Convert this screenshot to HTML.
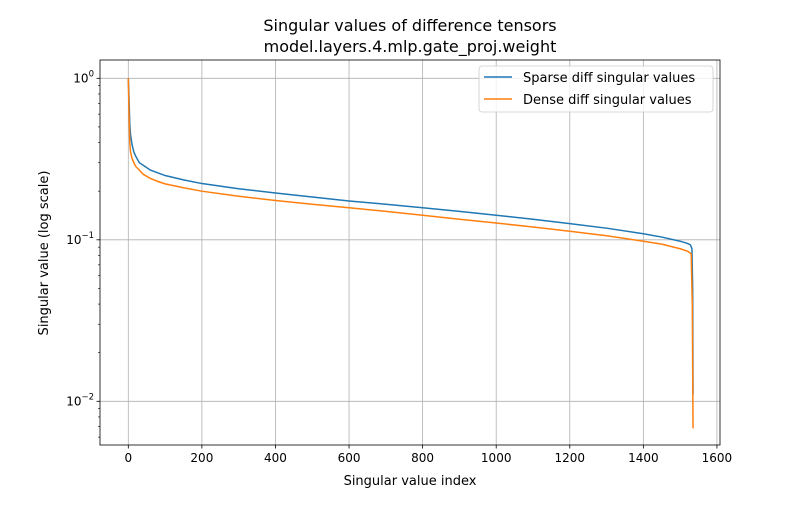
<!DOCTYPE html>
<html><head><meta charset="utf-8"><style>
body{margin:0;background:#fff;font-family:"Liberation Sans","DejaVu Sans",sans-serif}
svg text{font-family:"DejaVu Sans","Liberation Sans",sans-serif}
</style></head><body>
<svg id="c" width="800" height="500" xmlns="http://www.w3.org/2000/svg"></svg>
<script>
const xTicks=[0,200,400,600,800,1000,1200,1400,1600];
const yTicks=[1,0.1,0.01];
const sparseIdx=[0,2,4,6,10,15,20,30,40,60,80,100,150,200,300,400,500,600,700,800,900,1000,1100,1200,1300,1400,1450,1500,1520,1528,1532,1534,1535];
const sparseVal=[1.0,0.75,0.52,0.45,0.39,0.35,0.33,0.30,0.29,0.27,0.26,0.25,0.235,0.223,0.207,0.195,0.184,0.174,0.166,0.158,0.150,0.142,0.134,0.126,0.118,0.109,0.104,0.098,0.095,0.093,0.088,0.05,0.011];
const denseIdx=[0,2,4,6,10,15,20,30,40,60,80,100,150,200,300,400,500,600,700,800,900,1000,1100,1200,1300,1400,1450,1500,1520,1530,1533,1535];
const denseVal=[1.0,0.6,0.4,0.35,0.32,0.30,0.285,0.27,0.255,0.24,0.23,0.222,0.21,0.20,0.186,0.175,0.166,0.158,0.150,0.142,0.134,0.127,0.120,0.113,0.106,0.098,0.094,0.088,0.085,0.082,0.04,0.0068];
const L=100,R=720,T=60,B=445;
const X=v=>128.3+v*0.3679;
const Y=v=>78.3-Math.log10(v)*161.5;
const svg=document.getElementById('c');
const NS='http://www.w3.org/2000/svg';
function el(t,a,txt){const e=document.createElementNS(NS,t);for(const k in a)e.setAttribute(k,a[k]);if(txt!==undefined)e.textContent=txt;svg.appendChild(e);return e;}
xTicks.forEach(v=>{
 const g=el('line',{x1:X(v),x2:X(v),y1:T,y2:B,stroke:'#b0b0b0','stroke-width':0.8});
 
 
 el('line',{x1:X(v),x2:X(v),y1:B,y2:B+3.5,stroke:'#000','stroke-width':0.8});
 const t=el('text',{x:X(v),y:B+17,'font-size':12,'text-anchor':'middle'},String(v));
 
 
});
yTicks.forEach(v=>{
 const g=el('line',{x1:L,x2:R,y1:Y(v),y2:Y(v),stroke:'#b0b0b0','stroke-width':0.8});
 
 
 el('line',{x1:L-3.5,x2:L,y1:Y(v),y2:Y(v),stroke:'#000','stroke-width':0.8});
 const e=Math.round(Math.log10(v));
 const t=el('text',{x:L-6,y:Y(v)+4,'font-size':12,'text-anchor':'end'});
 t.innerHTML='10<tspan dy="-6" font-size="8.5">'+(e<0?'−'+(-e):e)+'</tspan>';
 
 
});
// minor ticks
for(let d=-3;d<=0;d++)for(let m=2;m<=9;m++){const v=m*Math.pow(10,d);const y=Y(v);if(y>T&&y<B)el('line',{x1:L-2,x2:L,y1:y,y2:y,stroke:'#000','stroke-width':0.6});}
function line(idx,val,col,name){
 const p=el('polyline',{points:idx.map((x,i)=>X(x)+','+Y(val[i])).join(' '),fill:'none',stroke:col,'stroke-width':1.5});
 
 
}
line(sparseIdx,sparseVal,'#1f77b4','sparse-series');
line(denseIdx,denseVal,'#ff7f0e','dense-series');
const fr=el('rect',{x:L,y:T,width:R-L,height:B-T,fill:'none',stroke:'#000','stroke-width':0.8});


</script>
<div style="display:none"></div>
<script>
(function(){
const svg=document.getElementById('c');const NS='http://www.w3.org/2000/svg';
function el(t,a,txt){const e=document.createElementNS(NS,t);for(const k in a)e.setAttribute(k,a[k]);if(txt!==undefined)e.textContent=txt;svg.appendChild(e);return e;}
let t=el('text',{x:410,y:31,'font-size':16,'text-anchor':'middle'},'Singular values of difference tensors');

t=el('text',{x:410,y:52,'font-size':16,'text-anchor':'middle'},'model.layers.4.mlp.gate_proj.weight');

t=el('text',{x:410,y:485,'font-size':13,'text-anchor':'middle'},'Singular value index');

t=el('text',{x:48,y:253,'font-size':13,'text-anchor':'middle',transform:'rotate(-90 48 253)'},'Singular value (log scale)');

const lg=el('rect',{x:479,y:66,width:234,height:46,rx:3,fill:'#fff','fill-opacity':0.8,stroke:'#ccc','stroke-width':0.8});

el('line',{x1:484,x2:512,y1:77,y2:77,stroke:'#1f77b4','stroke-width':1.5});
t=el('text',{x:523,y:82,'font-size':13},'Sparse diff singular values');

el('line',{x1:484,x2:512,y1:99,y2:99,stroke:'#ff7f0e','stroke-width':1.5});
t=el('text',{x:523,y:104,'font-size':13},'Dense diff singular values');

})();
</script>
</body></html>
